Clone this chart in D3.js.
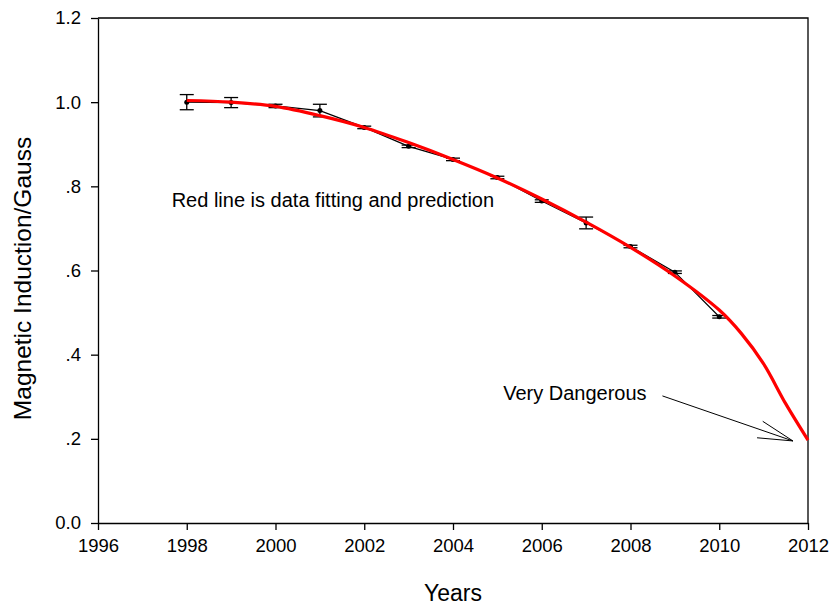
<!DOCTYPE html>
<html>
<head>
<meta charset="utf-8">
<script src="https://cdn.jsdelivr.net/npm/d3@7"></script>
<style>
    body { margin: 0; background: #fff; }
    text { font-family: Arial, "Liberation Sans", sans-serif; fill: #000; }
</style>
</head>
<body>
<div id="chart"></div>
<script>
// measured values with error bars
const years = [1998, 1999, 2000, 2001, 2002, 2003, 2004, 2005, 2006, 2007, 2008, 2009, 2010];
const values = [1.000, 0.999, 0.991, 0.980, 0.940, 0.895, 0.864, 0.821, 0.765, 0.713, 0.657, 0.596, 0.490];
const errors = [0.018, 0.012, 0.004, 0.015, 0.003, 0.003, 0.003, 0.003, 0.003, 0.014, 0.003, 0.003, 0.003];

// red fitted / predicted curve
const fitYears = [1998, 1999, 2000, 2001, 2002, 2003, 2004, 2005, 2006, 2007, 2008, 2009, 2010, 2010.5, 2011, 2011.5, 2012];
const fitValues = [1.004, 1.000, 0.990, 0.968, 0.940, 0.904, 0.864, 0.820, 0.770, 0.715, 0.655, 0.587, 0.506, 0.450, 0.378, 0.283, 0.197];

const xTicks = [1996, 1998, 2000, 2002, 2004, 2006, 2008, 2010, 2012];
const yTicks = [0, 0.2, 0.4, 0.6, 0.8, 1.0, 1.2];
const yTickLabels = ["0.0", ".2", ".4", ".6", ".8", "1.0", "1.2"];

const WIDTH = 833;
const HEIGHT = 606;
const LEFT = 98, RIGHT = 808, TOP = 18, BOTTOM = 523;

const svg = d3.select("#chart")
    .append("svg")
    .attr("width", WIDTH)
    .attr("height", HEIGHT);

const xScale = d3.scaleLinear().domain([1996, 2012]).range([LEFT, RIGHT]);
const yScale = d3.scaleLinear().domain([0, 1.2]).range([BOTTOM, TOP]);

// frame (top and right)
svg.append("path")
    .attr("d", `M${LEFT},${TOP}H${RIGHT}V${BOTTOM}`)
    .attr("fill", "none")
    .attr("stroke", "#000")
    .attr("stroke-width", 1.3);

// X axis
const xAxis = svg.append("g")
    .attr("transform", `translate(0,${BOTTOM})`)
    .call(d3.axisBottom(xScale).tickValues(xTicks).tickFormat(d3.format("d")).tickSizeInner(7).tickSizeOuter(0).tickPadding(9));
xAxis.selectAll("text").style("font-size", "18.5px").style("font-family", "Arial, 'Liberation Sans', sans-serif");

// Y axis
const yAxis = svg.append("g")
    .attr("transform", `translate(${LEFT},0)`)
    .call(d3.axisLeft(yScale).tickValues(yTicks).tickFormat((d, i) => yTickLabels[i]).tickSizeInner(7).tickSizeOuter(0).tickPadding(10));
yAxis.selectAll("text").style("font-size", "18.5px").style("font-family", "Arial, 'Liberation Sans', sans-serif");

svg.selectAll(".domain, .tick line").attr("stroke", "#000").attr("stroke-width", 1.3);

// axis titles
svg.append("text")
    .attr("x", (LEFT + RIGHT) / 2)
    .attr("y", 601)
    .attr("text-anchor", "middle")
    .style("font-size", "23px")
    .text("Years");

svg.append("text")
    .attr("transform", `translate(31,${(TOP + BOTTOM) / 2 + 8})rotate(-90)`)
    .attr("text-anchor", "middle")
    .style("font-size", "24.5px")
    .text("Magnetic Induction/Gauss");

// black line joining the measurements
const points = years.map((y, i) => ({ year: y, value: values[i], err: errors[i] }));

svg.append("path")
    .datum(points)
    .attr("fill", "none")
    .attr("stroke", "#000")
    .attr("stroke-width", 1.2)
    .attr("d", d3.line().x(d => xScale(d.year)).y(d => yScale(d.value)));

// error bars
const CAP = 7;
const bars = svg.append("g").selectAll("g")
    .data(points)
    .enter()
    .append("g")
    .attr("stroke", "#000")
    .attr("stroke-width", 1.3);

bars.append("line")
    .attr("x1", d => xScale(d.year)).attr("x2", d => xScale(d.year))
    .attr("y1", d => yScale(d.value + d.err)).attr("y2", d => yScale(d.value - d.err));
bars.append("line")
    .attr("x1", d => xScale(d.year) - CAP).attr("x2", d => xScale(d.year) + CAP)
    .attr("y1", d => yScale(d.value + d.err)).attr("y2", d => yScale(d.value + d.err));
bars.append("line")
    .attr("x1", d => xScale(d.year) - CAP).attr("x2", d => xScale(d.year) + CAP)
    .attr("y1", d => yScale(d.value - d.err)).attr("y2", d => yScale(d.value - d.err));

svg.append("g").selectAll("circle")
    .data(points)
    .enter()
    .append("circle")
    .attr("cx", d => xScale(d.year))
    .attr("cy", d => yScale(d.value))
    .attr("r", 2.5)
    .attr("fill", "#000");

// red fit curve
const fit = fitYears.map((y, i) => ({ year: y, value: fitValues[i] }));
svg.append("path")
    .datum(fit)
    .attr("fill", "none")
    .attr("stroke", "#ff0000")
    .attr("stroke-width", 3.2)
    .attr("d", d3.line().curve(d3.curveCatmullRom).x(d => xScale(d.year)).y(d => yScale(d.value)));

// annotations
svg.append("text")
    .attr("x", xScale(1997.66))
    .attr("y", yScale(0.75))
    .style("font-size", "20px")
    .text("Red line is data fitting and prediction");

svg.append("text")
    .attr("x", xScale(2005.13))
    .attr("y", yScale(0.293))
    .style("font-size", "20px")
    .text("Very Dangerous");

// arrow pointing to the end of the curve
const arrowFrom = [2008.72, 0.302];
const arrowTo = [2011.66, 0.195];
const x1 = xScale(arrowFrom[0]), y1 = yScale(arrowFrom[1]);
const x2 = xScale(arrowTo[0]), y2 = yScale(arrowTo[1]);
const ang = Math.atan2(y1 - y2, x1 - x2);
const HEAD = 36, SPREAD = 14 * Math.PI / 180;
const arrow = d3.path();
arrow.moveTo(x1, y1);
arrow.lineTo(x2, y2);
arrow.moveTo(x2 + HEAD * Math.cos(ang + SPREAD), y2 + HEAD * Math.sin(ang + SPREAD));
arrow.lineTo(x2, y2);
arrow.lineTo(x2 + HEAD * Math.cos(ang - SPREAD), y2 + HEAD * Math.sin(ang - SPREAD));
svg.append("path")
    .attr("d", arrow.toString())
    .attr("fill", "none")
    .attr("stroke", "#000")
    .attr("stroke-width", 1);
</script>
</body>
</html>
